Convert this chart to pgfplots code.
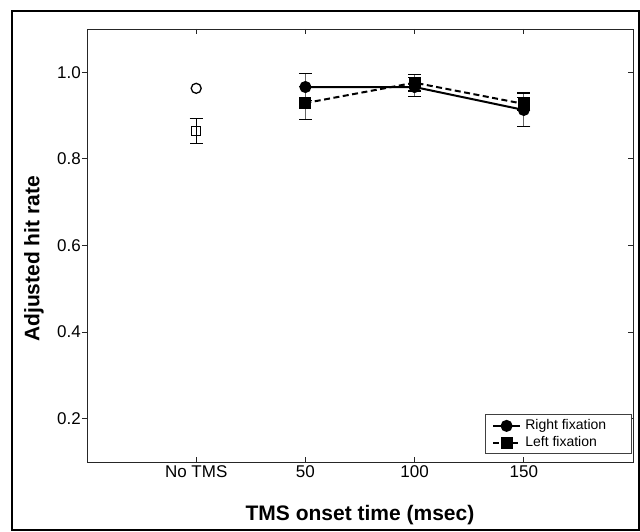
\documentclass[border=0pt]{standalone}
\usepackage{pgfplots}
\pgfplotsset{compat=1.18}
\usepackage{fontspec}
\setmainfont{Liberation Sans}
\begin{document}
\begin{tikzpicture}[x=1pt,y=1pt]
\useasboundingbox (0,0) rectangle (640,531);
\draw[line width=1.3pt] (12,1) rectangle (639,520);
% axis B: left y ticks (outside) and y label
\begin{axis}[
  at={(87pt,69pt)}, anchor=south west,
  scale only axis, width=546pt, height=433pt,
  xmin=0, xmax=5, ymin=0.1, ymax=1.1,
  xtick=\empty,
  ytick={0.2,0.4,0.6,0.8,1.0},
  ytick pos=left, tick align=outside, major tick length=5pt,
  /pgf/number format/assume math mode=true,
  yticklabel style={font=\fontsize{17}{20}\selectfont, inner sep=1pt,
    /pgf/number format/fixed, /pgf/number format/fixed zerofill, /pgf/number format/precision=1},
  axis line style={line width=0.9pt, black!85},
  tick style={line width=0.9pt, black!85},
  ylabel={Adjusted hit rate},
  ylabel style={font=\fontsize{21}{25}\selectfont\bfseries, at={(axis description cs:-0.097,0.469)}, anchor=center},
]
\addplot[draw=none] coordinates {(0,0.5)};
\end{axis}
% axis A: data, x ticks, right y ticks (inside)
\begin{axis}[
  at={(87pt,69pt)}, anchor=south west,
  scale only axis, width=546pt, height=433pt,
  xmin=0, xmax=5, ymin=0.1, ymax=1.1,
  xtick={1,2,3,4}, xticklabels={No TMS,50,100,150},
  xtick pos=both,
  ytick={0.2,0.4,0.6,0.8,1.0}, yticklabels={},
  ytick pos=right, tick align=inside, major tick length=5pt,
  xticklabel style={font=\fontsize{17}{20}\selectfont},
  axis line style={line width=0.9pt, black!85},
  tick style={line width=0.9pt, black!85},
  xlabel={TMS onset time (msec)},
  xlabel style={font=\fontsize{21}{25}\selectfont\bfseries, at={(axis description cs:0.5,-0.122)}, anchor=center},
  legend style={at={(axis description cs:0.9976,0.0178)}, anchor=south east,
    draw=black!75, line width=0.8pt, font=\fontsize{14}{16}\selectfont,
    inner xsep=6.5pt, inner ysep=3pt, row sep=1pt, column sep=2.7pt,
    nodes={text height=10pt, text depth=3pt, inner sep=1.5pt}},
  legend cell align=left,
  legend image code/.code={\draw[mark repeat=2, mark phase=2] plot coordinates {(0pt,0pt) (13.5pt,0pt) (27pt,0pt)};},
]
% Right fixation
\addplot[black, line width=2pt, mark=*, mark size=5pt, mark options={solid},
  error bars/.cd, y dir=both, y explicit,
  error bar style={solid, line width=1pt, black!60},
  error mark options={rotate=90, solid, black, line width=1.2pt, mark size=6.5pt}]
  coordinates {(2,0.966) +- (0,0.031) (3,0.966) +- (0,0.022) (4,0.913) +- (0,0.039)};
\addlegendentry{\makebox[98pt][l]{Right fixation}}
% Left fixation
\addplot[black, line width=2pt, dash pattern=on 6pt off 3.5pt, mark=square*, mark size=5pt, mark options={solid},
  error bars/.cd, y dir=both, y explicit,
  error bar style={solid, line width=1pt, black!60},
  error mark options={rotate=90, solid, black, line width=1.2pt, mark size=6.5pt}]
  coordinates {(2,0.929) +- (0,0.038) (3,0.976) +- (0,0.019) (4,0.927) +- (0,0.014)};
\addlegendentry{\makebox[98pt][l]{Left fixation}}
% No TMS
\addplot[forget plot, only marks, black, mark=o, mark size=5pt, mark options={line width=1.3pt}]
  coordinates {(1,0.963)};
\addplot[forget plot, only marks, black, mark=square, mark size=4.5pt, mark options={line width=1.3pt},
  error bars/.cd, y dir=both, y explicit,
  error bar style={solid, line width=1.2pt, black},
  error mark options={rotate=90, solid, black, line width=1.2pt, mark size=6.5pt}]
  coordinates {(1,0.865) +- (0,0.029)};
\end{axis}
\end{tikzpicture}
\end{document}
